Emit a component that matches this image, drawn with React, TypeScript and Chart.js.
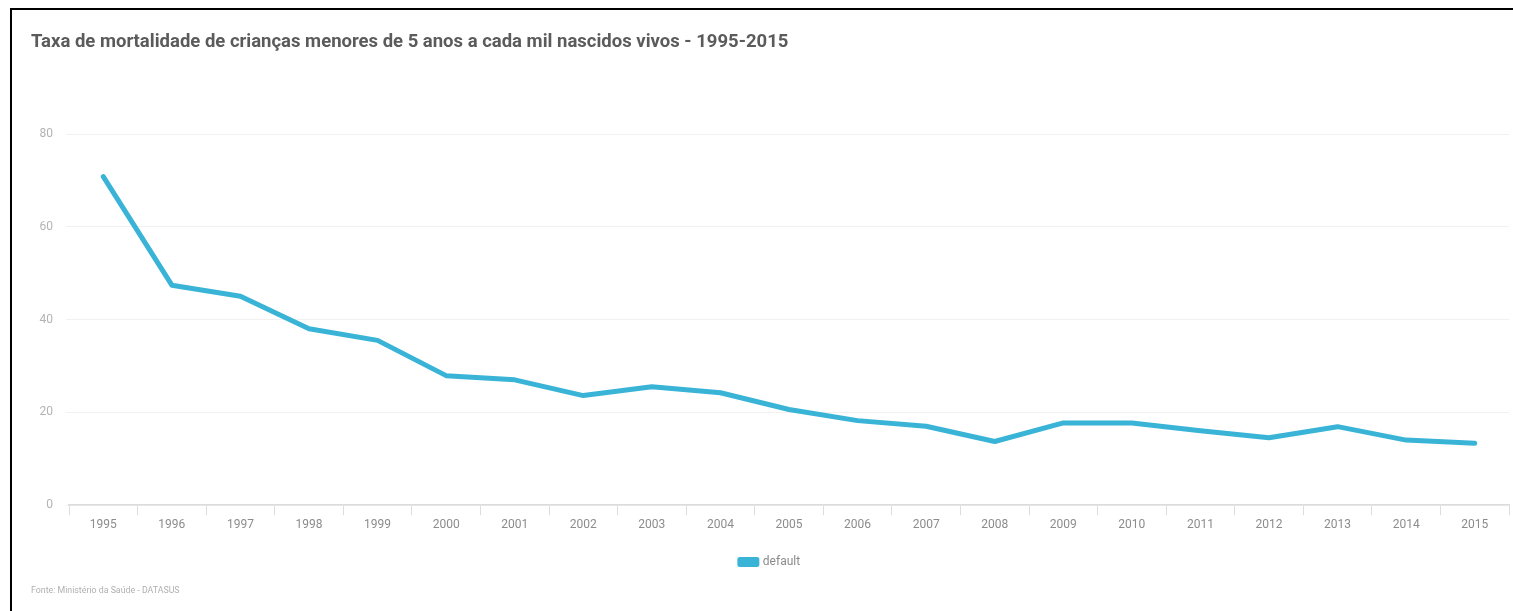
import React, { useEffect, useRef } from "react";
import { Chart, registerables } from "chart.js";

Chart.register(...registerables);

// Under-5 mortality per 1,000 live births, Brazil
const years = [
  "1995", "1996", "1997", "1998", "1999", "2000", "2001", "2002", "2003", "2004", "2005",
  "2006", "2007", "2008", "2009", "2010", "2011", "2012", "2013", "2014", "2015",
];
const mortalityRate = [
  70.8, 47.4, 45.0, 38.0, 35.5, 27.9, 27.0, 23.6, 25.5, 24.2, 20.6,
  18.2, 17.0, 13.7, 17.7, 17.7, 16.0, 14.5, 16.9, 14.0, 13.3,
];
const seriesLabel = "default";
const titleText = "Taxa de mortalidade de crianças menores de 5 anos a cada mil nascidos vivos - 1995-2015";
const sourceText = "Fonte: Ministério da Saúde - DATASUS";
const yTicks = { min: 0, max: 80, step: 20 };

const WIDTH = 1513;
const HEIGHT = 611;
const LINE_COLOR = "#39b4d6";
const FONT = "Roboto, 'Noto Sans', sans-serif";

export default function App() {
  const canvasRef = useRef<HTMLCanvasElement | null>(null);

  useEffect(() => {
    const canvas = canvasRef.current;
    if (!canvas) return;
    const chart = new Chart(canvas, {
      type: "line",
      data: {
        labels: years,
        datasets: [
          {
            label: seriesLabel,
            data: mortalityRate,
            borderColor: LINE_COLOR,
            backgroundColor: LINE_COLOR,
            borderWidth: 5,
            pointRadius: 0,
            pointHoverRadius: 0,
            tension: 0,
            borderCapStyle: "round",
            borderJoinStyle: "round",
            fill: false,
          },
        ],
      },
      options: {
        responsive: false,
        animation: false,
        devicePixelRatio: 1,
        layout: { padding: { left: 31, right: 4, top: 0, bottom: 0 } },
        plugins: {
          title: {
            display: true,
            text: titleText,
            align: "start",
            color: "#5b5b5b",
            font: { family: FONT, size: 18.5, weight: "bold" },
            padding: { top: 30.9, bottom: 80.9 },
          },
          subtitle: {
            display: true,
            position: "bottom",
            text: sourceText,
            align: "start",
            color: "#b0b0b0",
            font: { family: FONT, size: 8.8, weight: "normal" },
            padding: { top: 7.2, bottom: 15.2 },
          },
          legend: {
            display: true,
            position: "bottom",
            labels: {
              color: "#8a8a8a",
              font: { family: FONT, size: 12 },
              boxWidth: 17,
              boxHeight: 5,
              padding: 10,
            },
          },
          tooltip: { enabled: false },
        },
        scales: {
          x: {
            offset: true,
            border: { display: true, color: "#dcdcdc", width: 1.5 },
            grid: {
              offset: true,
              drawOnChartArea: false,
              drawTicks: true,
              tickLength: 10,
              color: "#dcdcdc",
            },
            ticks: {
              color: "#8c8c8c",
              font: { family: FONT, size: 12 },
              padding: 3,
              maxRotation: 0,
              autoSkip: false,
            },
            afterFit: (scale: any) => {
              scale.height = 41;
            },
          },
          y: {
            min: yTicks.min,
            max: yTicks.max,
            border: { display: false },
            grid: {
              color: "#f1f1f1",
              lineWidth: 1,
              drawTicks: true,
              tickLength: 3,
            },
            ticks: {
              stepSize: yTicks.step,
              color: "#b3b3b3",
              font: { family: FONT, size: 12 },
              padding: 13,
            },
            afterFit: (scale: any) => {
              scale.width = 38;
            },
          },
        },
      },
    });
    return () => chart.destroy();
  }, []);

  return (
    <div
      style={{
        position: "fixed",
        left: 0,
        top: 0,
        width: WIDTH,
        height: HEIGHT,
        background: "#ffffff",
        overflow: "hidden",
      }}
    >
      <canvas ref={canvasRef} width={WIDTH} height={HEIGHT} style={{ display: "block" }} />
      <div
        style={{
          position: "absolute",
          left: 10,
          top: 8,
          width: WIDTH - 10,
          height: HEIGHT - 8,
          borderTop: "2px solid #000",
          borderLeft: "2px solid #000",
          boxSizing: "border-box",
          pointerEvents: "none",
        }}
      />
    </div>
  );
}
